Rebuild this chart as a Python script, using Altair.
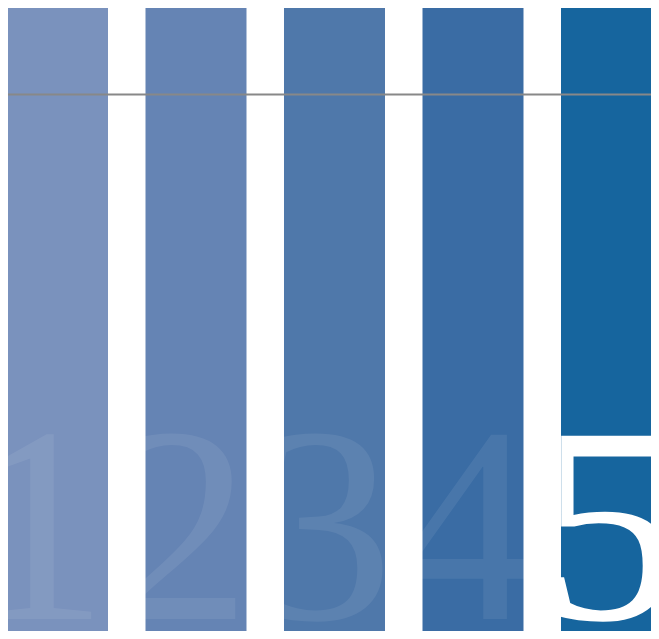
import altair as alt
import pandas as pd

labels = ["1", "2", "3", "4", "5"]
positions = [1, 2, 3, 4, 5]
values = [100, 100, 100, 100, 100]
colors = ["#7a92bd", "#6584b4", "#4f78aa", "#3a6ca4", "#16659e"]
label_opacity = [0.07, 0.07, 0.07, 0.07, 1.0]
reference_line = [86.1]

df = pd.DataFrame({
    "label": labels,
    "idx": positions,
    "value": values,
    "color": colors,
    "op": label_opacity,
})
ref_df = pd.DataFrame({"ref": reference_line})

W, H = 643, 623

yscale = alt.Scale(domain=[0, 100], nice=False, zero=True, padding=0)

bars = alt.Chart(df).mark_bar(width=101).encode(
    x=alt.X("idx:Q", axis=None,
            scale=alt.Scale(domain=[0.6426, 5.2852], nice=False, zero=False, padding=0)),
    y=alt.Y("value:Q", axis=None, scale=yscale),
    color=alt.Color("color:N", scale=None, legend=None),
)

numbers = alt.Chart(df).mark_text(
    font="Liberation Serif", fontSize=280, align="center",
    baseline="alphabetic", dy=-12, color="white",
).encode(
    x=alt.X("idx:Q", axis=None,
            scale=alt.Scale(domain=[0.7898, 5.2958], nice=False, zero=False, padding=0)),
    y=alt.Y("base:Q", axis=None, scale=yscale),
    text="label:N",
    opacity=alt.Opacity("op:Q", scale=None, legend=None),
).transform_calculate(base="0")

rule = alt.Chart(ref_df).mark_rule(color="#888888", strokeWidth=2).encode(
    x=alt.value(0),
    x2=alt.value("width"),
    y=alt.Y("ref:Q", scale=yscale, axis=None),
)

chart = alt.layer(bars, numbers, rule).resolve_scale(x="independent").properties(
    width=W, height=H, padding=0,
    autosize=alt.AutoSizeParams(type="none"),
    background="white",
).configure_view(stroke=None)

chart.save("out.html", embed_options={"renderer": "svg", "actions": False})
